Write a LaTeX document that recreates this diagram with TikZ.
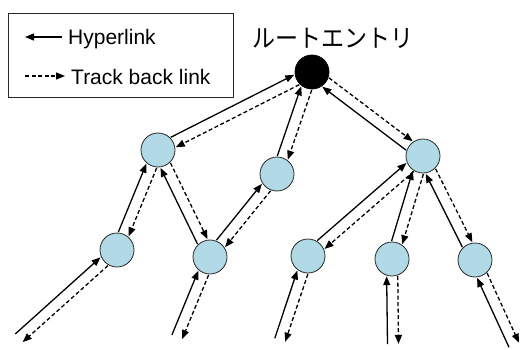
\documentclass[tikz,border=0pt]{standalone}
\usepackage{fontspec}
\setmainfont{Liberation Sans}
\newfontfamily\jpfont{Noto Sans CJK JP}
\usetikzlibrary{calc,arrows.meta}

% geometry of the paired links
\newcommand\lkr{18pt}   % distance from node centre to link end
\newcommand\lka{18}     % angular offset on the node border
\newcommand\lkd{5.5pt}  % half gap between the two parallel links

% child -> parent hyperlink, parent -> child track back link
\newcommand\linkpair[2]{%
  \draw[hyper] ($(#1.center)!\lkr!\lka:(#2.center)$) -- ($(#2.center)!\lkr!-\lka:(#1.center)$);
  \draw[track] ($(#2.center)!\lkr!\lka:(#1.center)$) -- ($(#1.center)!\lkr!-\lka:(#2.center)$);
}
% same pair, from a loose end to an entry
\newcommand\loosepair[2]{%
  \draw[hyper] ($(#1)!\lkd!90:(#2.center)$) -- ($(#2.center)!\lkr!-\lka:(#1)$);
  \draw[track] ($(#2.center)!\lkr!\lka:(#1)$) -- ($(#1)!\lkd!-90:(#2.center)$);
}

\definecolor{entryblue}{RGB}{178,218,230}
\definecolor{edgegray}{RGB}{40,40,40}

\tikzset{
  entry/.style={circle, draw=edgegray, line width=0.8pt, fill=entryblue,
    minimum size=34pt, inner sep=0pt},
  rootentry/.style={entry, fill=black, draw=black},
  hyper/.style={line width=1.3pt, -{Triangle[length=9pt,width=7pt]}},
  track/.style={line width=1.3pt, dash pattern=on 4pt off 2.5pt,
    -{Triangle[length=9pt,width=7pt]}},
  legendtext/.style={anchor=base west, inner sep=0pt, font=\fontsize{21}{21}\selectfont},
}

\begin{document}
\begin{tikzpicture}[x=1pt, y=-1pt]
\useasboundingbox (0,0) rectangle (521,350);

% legend
\node[draw=edgegray, line width=0.9pt, minimum width=225pt, minimum height=84pt,
  inner sep=0pt] (legend) at (120.5,55) {};
\node[legendtext] (hyperlabel) at (68,44.5) {Hyperlink};
\node[legendtext] (tracklabel) at (71,84.5) {Track back link};
\coordinate (hypA) at (62,37);
\coordinate (hypB) at (25,37);
\coordinate (trkA) at (25,76);
\coordinate (trkB) at (65,76);
\draw[hyper] (hypA) -- (hypB);
\draw[track] (trkA) -- (trkB);

% title
\node[inner sep=0pt] (roottitle) at (333.4,38.5)
  {\scalebox{0.92}[1]{\fontsize{25}{25}\selectfont\jpfont ルートエントリ}};

% entries
\node[rootentry] (root) at (312,72) {};
\node[entry] (a) at (158,150) {};
\node[entry] (b) at (277,174) {};
\node[entry] (c) at (423,156) {};
\node[entry] (a1) at (117,250) {};
\node[entry] (ab) at (210,257) {};
\node[entry] (c1) at (308,256) {};
\node[entry] (c2) at (392,259) {};
\node[entry] (c3) at (475,260) {};

% loose ends at the bottom
\coordinate (e1) at (19,338);
\coordinate (e2) at (177,337);
\coordinate (e3) at (280,340);
\coordinate (e4) at (393,344);
\coordinate (e5) at (514,345);

% links
\linkpair{a}{root}
\linkpair{b}{root}
\linkpair{c}{root}
\linkpair{a1}{a}
\linkpair{ab}{a}
\linkpair{ab}{b}
\linkpair{c1}{c}
\linkpair{c2}{c}
\linkpair{c3}{c}
\loosepair{e1}{a1}
\loosepair{e2}{ab}
\loosepair{e3}{c1}
\loosepair{e4}{c2}
\loosepair{e5}{c3}
\end{tikzpicture}
\end{document}
